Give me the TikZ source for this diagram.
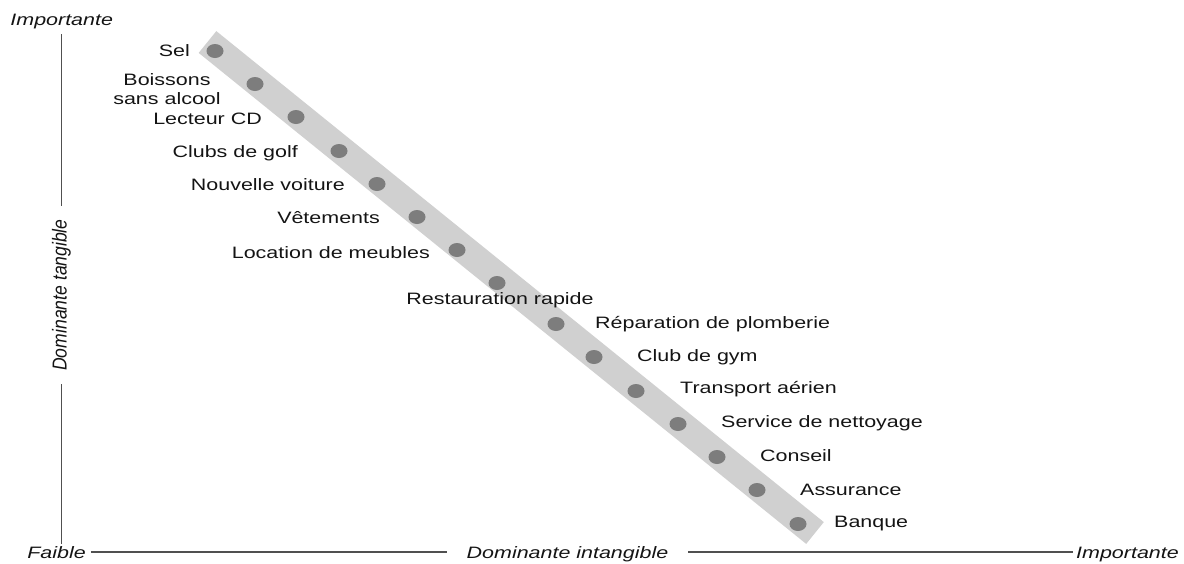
\documentclass[tikz,border=0pt]{standalone}
\usepackage{fontspec}
\setmainfont[FakeStretch=1.30]{Liberation Sans}
\newfontfamily\rotfont[FakeStretch=0.87]{Liberation Sans}
\usetikzlibrary{shapes.geometric}
\definecolor{bandgray}{RGB}{208,208,208}
\definecolor{dotgray}{RGB}{125,125,125}
\definecolor{axisgray}{RGB}{80,80,80}
\definecolor{inkblack}{RGB}{20,20,20}
\begin{document}
\begin{tikzpicture}[x=1pt,y=-1pt,
  lbl/.style={font=\fontsize{16.5}{19}\selectfont, inner sep=0pt, text=inkblack},
  axlbl/.style={font=\fontsize{16.5}{19}\selectfont\itshape, inner sep=0pt, text=inkblack, anchor=mid},
  axisline/.style={draw=axisgray, line width=1.3pt},
  dot/.style={ellipse, fill=dotgray, minimum width=17pt, minimum height=14pt, inner sep=0pt}]
\useasboundingbox (0,0) rectangle (1184,563);

% diagonal band
\fill[bandgray] (216.3,31.1) -- (823.8,522.1) -- (806.2,543.9) -- (198.7,52.9) -- cycle;

% points along the band
\node[dot] (d1)  at (215,51)  {};
\node[dot] (d2)  at (255,84)  {};
\node[dot] (d3)  at (296,117) {};
\node[dot] (d4)  at (339,151) {};
\node[dot] (d5)  at (377,184) {};
\node[dot] (d6)  at (417,217) {};
\node[dot] (d7)  at (457,250) {};
\node[dot] (d8)  at (497,283) {};
\node[dot] (d9)  at (556,324) {};
\node[dot] (d10) at (594,357) {};
\node[dot] (d11) at (636,391) {};
\node[dot] (d12) at (678,424) {};
\node[dot] (d13) at (717,457) {};
\node[dot] (d14) at (757,490) {};
\node[dot] (d15) at (798,524) {};

% item labels
\node[lbl, anchor=mid east] (l1) at (190,54) {Sel};
\node[lbl, align=center] (l2) at (167,89) {Boissons\\sans alcool};
\node[lbl, anchor=mid east] (l3) at (262,122) {Lecteur CD};
\node[lbl, anchor=mid east] (l4) at (298,155) {Clubs de golf};
\node[lbl, anchor=mid east] (l5) at (345,188) {Nouvelle voiture};
\node[lbl, anchor=mid east] (l6) at (380,221) {Vêtements};
\node[lbl, anchor=mid east] (l7) at (430,256) {Location de meubles};
\node[lbl, anchor=mid] (l8) at (500,302) {Restauration rapide};
\node[lbl, anchor=mid west] (l9) at (595,326) {Réparation de plomberie};
\node[lbl, anchor=mid west] (l10) at (637,359) {Club de gym};
\node[lbl, anchor=mid west] (l11) at (680,391) {Transport aérien};
\node[lbl, anchor=mid west] (l12) at (721,425) {Service de nettoyage};
\node[lbl, anchor=mid west] (l13) at (760,459) {Conseil};
\node[lbl, anchor=mid west] (l14) at (800,493) {Assurance};
\node[lbl, anchor=mid west] (l15) at (834,525) {Banque};

% axis labels
\node[axlbl, inner ysep=0pt] (impTop) at (61.7,23) {Importante};
\node[font=\fontsize{20.2}{22}\rotfont\itshape, text=inkblack, rotate=90,
      inner xsep=13.5pt, inner ysep=0pt] (domTan) at (61.5,295) {Dominante tangible};
\node[axlbl, inner xsep=5pt, inner ysep=2.5pt] (faible) at (56.5,556) {Faible};
\node[axlbl, inner xsep=20pt] (domInt) at (567.5,556) {Dominante intangible};
\node[axlbl, inner xsep=3pt] (impRight) at (1127.5,556) {Importante};

% axes
\draw[axisline, shorten <=5pt] (domTan.east |- impTop.south) -- (domTan.east);
\draw[axisline] (domTan.west) -- (domTan.west |- faible.north);
\draw[axisline] ([yshift=4pt]faible.mid east) -- ([yshift=4pt]domInt.mid west);
\draw[axisline] ([yshift=4pt]domInt.mid east) -- ([yshift=4pt]impRight.mid west);
\end{tikzpicture}
\end{document}
